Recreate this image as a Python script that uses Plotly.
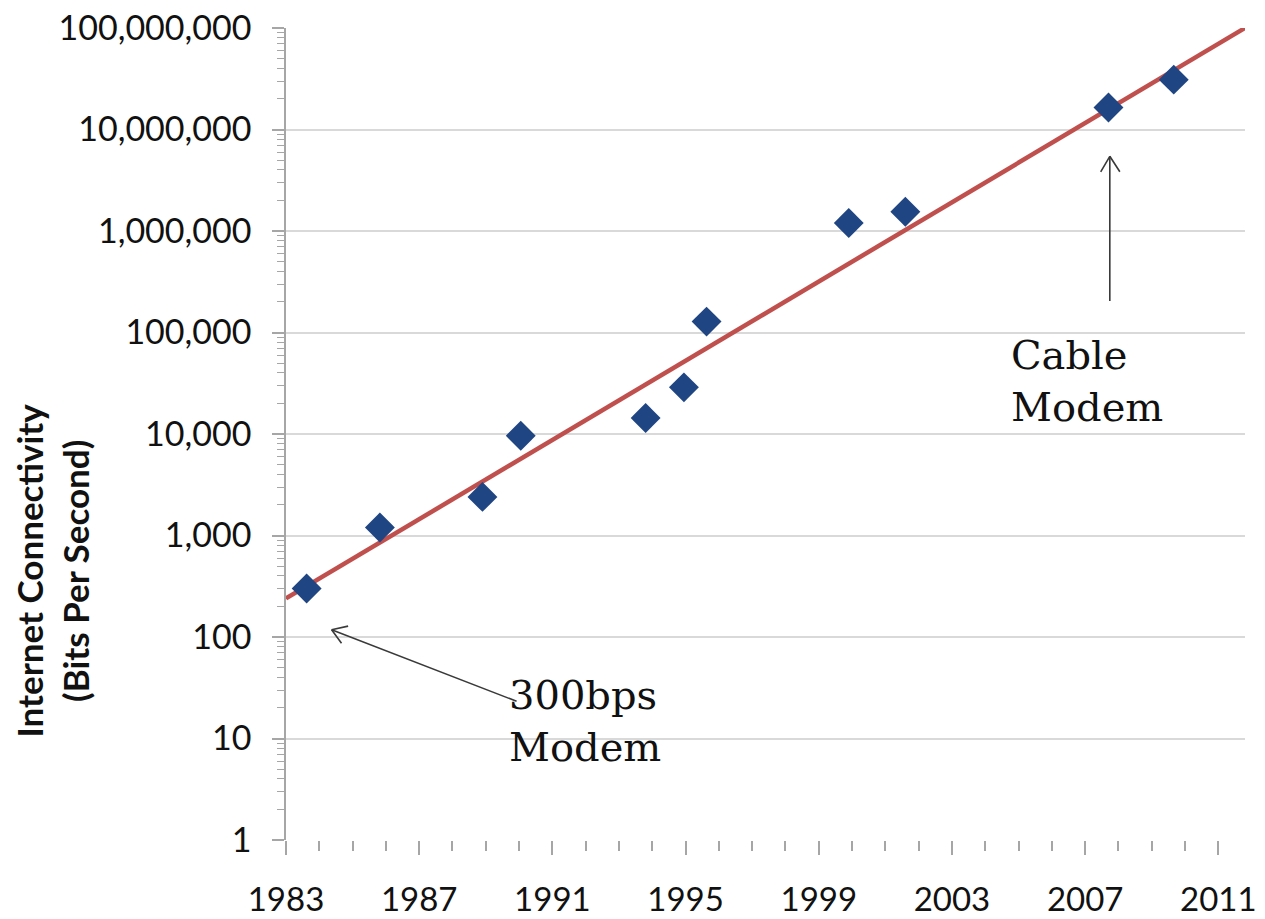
import plotly.graph_objects as go

# ---- data ----
years = [1983.62, 1985.82, 1988.9, 1990.05, 1993.8, 1994.95, 1995.63, 1999.9, 2001.6, 2007.7, 2009.66]
bps = [300, 1200, 2400, 9600, 14400, 28800, 128000, 1200000, 1550000, 16500000, 31000000]

trend_years = [1983.0, 2011.8]
trend_bps = [240, 100000000]

y_tick_vals = [1, 10, 100, 1000, 10000, 100000, 1000000, 10000000, 100000000]
y_tick_text = ["1", "10", "100", "1,000", "10,000", "100,000", "1,000,000", "10,000,000", "100,000,000"]

x_tick_vals = [1983, 1987, 1991, 1995, 1999, 2003, 2007, 2011]
x_tick_text = [str(v) for v in x_tick_vals]

y_title = "Internet Connectivity<br>(Bits Per Second)"
label_modem = "300bps<br>Modem"
label_cable = "Cable<br>Modem"

AXIS_GRAY = "#A6A6A6"
GRID_GRAY = "#D9D9D9"
ARROW = "#3a3a3a"

fig = go.Figure()
fig.add_trace(go.Scatter(
    x=trend_years, y=trend_bps, mode="lines",
    line=dict(color="#C0504D", width=4.5), showlegend=False, hoverinfo="skip"))
fig.add_trace(go.Scatter(
    x=years, y=bps, mode="markers",
    marker=dict(symbol="diamond", size=23, color="#1F4583", line=dict(width=0)),
    showlegend=False))

annotations = []
# 300bps modem arrow (shaft + open head)
tip1 = (1984.37, 2.071)
tail1 = (1989.97, 1.361)
annotations.append(dict(x=tip1[0], y=tip1[1], ax=tail1[0], ay=tail1[1], axref="x", ayref="y",
                        xref="x", yref="y", text="", showarrow=True, arrowhead=0,
                        arrowwidth=1.6, arrowcolor=ARROW, standoff=0, startstandoff=0))
for dx, dy in [(18, -4), (11, 15)]:
    annotations.append(dict(x=tip1[0], y=tip1[1], ax=dx, ay=dy, xref="x", yref="y",
                            text="", showarrow=True, arrowhead=0, arrowwidth=1.6,
                            arrowcolor=ARROW, standoff=0))
# cable modem arrow
tip2 = (2007.74, 6.736)
tail2 = (2007.74, 5.296)
annotations.append(dict(x=tip2[0], y=tip2[1], ax=tail2[0], ay=tail2[1], axref="x", ayref="y",
                        xref="x", yref="y", text="", showarrow=True, arrowhead=0,
                        arrowwidth=1.6, arrowcolor=ARROW, standoff=0, startstandoff=0))
for dx, dy in [(-10, 17), (11, 17)]:
    annotations.append(dict(x=tip2[0], y=tip2[1], ax=dx, ay=dy, xref="x", yref="y",
                            text="", showarrow=True, arrowhead=0, arrowwidth=1.6,
                            arrowcolor=ARROW, standoff=0))

serif = dict(family="DejaVu Serif", size=40, color="#111111")
annotations.append(dict(x=1989.65, y=1.17, xref="x", yref="y", text=label_modem,
                        showarrow=False, xanchor="left", yanchor="middle", align="left", font=serif))
annotations.append(dict(x=2004.72, y=4.52, xref="x", yref="y", text=label_cable,
                        showarrow=False, xanchor="left", yanchor="middle", align="left", font=serif))
# y-axis title
annotations.append(dict(x=-0.2435, y=0.3325, xref="paper", yref="paper", text=y_title,
                        textangle=-90, showarrow=False, xanchor="center", yanchor="middle",
                        font=dict(family="Lato", size=35, color="#111111", weight="bold")))

fig.update_layout(
    width=1265, height=919,
    margin=dict(l=286, r=20, t=28, b=79, autoexpand=False),
    plot_bgcolor="white", paper_bgcolor="white",
    annotations=annotations,
    xaxis=dict(
        range=[1983, 2011.8], tickmode="array", tickvals=x_tick_vals, ticktext=x_tick_text,
        ticks="outside", ticklen=14, tickwidth=1.5, tickcolor=AXIS_GRAY,
        showgrid=False, showline=False, zeroline=False, automargin=False,
        ticklabelstandoff=16,
        tickfont=dict(family="Lato", size=33, color="#111111"),
        minor=dict(tickmode="linear", tick0=1983, dtick=1, ticks="outside", ticklen=10,
                   tickwidth=1.5, tickcolor=AXIS_GRAY, showgrid=False),
    ),
    yaxis=dict(
        type="log", range=[0, 8], tickmode="array", tickvals=y_tick_vals, ticktext=y_tick_text,
        ticks="outside", ticklen=12, tickwidth=1.5, tickcolor=AXIS_GRAY,
        showline=True, linecolor=AXIS_GRAY, linewidth=1.5, automargin=False,
        showgrid=True, gridcolor=GRID_GRAY, gridwidth=1.5, zeroline=False,
        ticklabelstandoff=14,
        tickfont=dict(family="Lato", size=34, color="#111111"),
        minor=dict(dtick="D1", ticks="outside", ticklen=7, tickwidth=1, tickcolor=AXIS_GRAY,
                   showgrid=False),
    ),
)

fig.write_html("out.html")
